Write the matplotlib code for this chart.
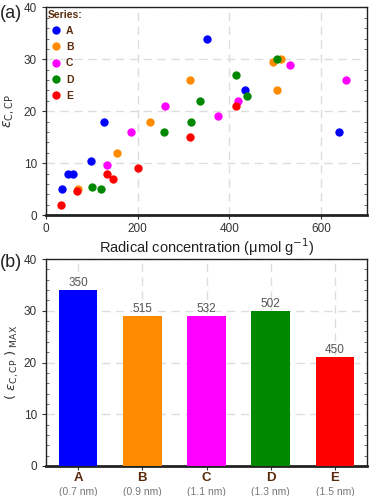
import matplotlib
matplotlib.use("Agg")
import matplotlib.pyplot as plt
from matplotlib.ticker import MultipleLocator

plt.rcParams['font.family'] = ['Liberation Sans', 'DejaVu Sans']
plt.rcParams['mathtext.fontset'] = 'dejavusans'

# (a) datos de dispersión
series = ['A', 'B', 'C', 'D', 'E']
colores = ['#0000ff', '#ff8c00', '#ff00ff', '#008800', '#ff0000']
x_A = [35, 48, 58, 98, 127, 350, 433, 639]
y_A = [5, 8, 8, 10.4, 18, 34, 24, 16]
x_B = [69, 154, 226, 315, 496, 513, 504]
y_B = [5, 12, 18, 26, 29.4, 30, 24]
x_C = [132, 185, 259, 376, 418, 531, 654]
y_C = [9.6, 16, 21, 19, 22, 29, 26]
x_D = [100, 120, 257, 317, 335, 415, 439, 503]
y_D = [5.4, 5, 16, 18, 22, 27, 23, 30]
x_E = [33, 68, 134, 147, 201, 313, 415]
y_E = [2, 4.6, 8, 7, 9, 15, 21]

# (b) datos de barras
etiquetas = ['A', 'B', 'C', 'D', 'E']
tamanos = ['(0.7 nm)', '(0.9 nm)', '(1.1 nm)', '(1.3 nm)', '(1.5 nm)']
eps_max = [34, 29, 29, 30, 21]
conc_max = ['350', '515', '532', '502', '450']

marron = '#5a2a0a'
gris = '#555555'
gris_grid = '#dddddd'

fig = plt.figure(figsize=(3.69, 4.96), dpi=100)
ax1 = fig.add_axes([0.1247, 0.5665, 0.87, 0.4185])
ax2 = fig.add_axes([0.1247, 0.0605, 0.87, 0.4173])

xs = [x_A, x_B, x_C, x_D, x_E]
ys = [y_A, y_B, y_C, y_D, y_E]
for nombre, color, x, y in zip(series, colores, xs, ys):
    ax1.plot(x, y, 'o', color=color, markersize=6, label=nombre, zorder=3,
             markeredgewidth=0)

ax1.set_xlim(0, 700)
ax1.set_ylim(0, 40)
ax1.xaxis.set_major_locator(MultipleLocator(200))
ax1.yaxis.set_major_locator(MultipleLocator(10))
ax1.yaxis.set_minor_locator(MultipleLocator(2))
ax1.grid(True, which='major', color=gris_grid, linestyle=(0, (6, 4)), lw=1)
ax1.set_axisbelow(True)
ax1.set_xlabel('Radical concentration (μmol g$^{-1}$)', fontsize=10.5,
               color='#222222', labelpad=1)
ax1.set_ylabel(r'$\varepsilon_{\mathrm{C,CP}}$', fontsize=10, color='#333333',
               labelpad=5)

leg = ax1.legend(loc='upper left', frameon=False, title='Series:',
                 fontsize=7.5, title_fontsize=7.5, handletextpad=0.1,
                 labelspacing=0.6, borderaxespad=0.1, handlelength=1.6,
                 borderpad=0.1)
leg._legend_box.align = 'left'
leg.get_title().set_color(marron)
leg.get_title().set_fontweight('bold')
for t in leg.get_texts():
    t.set_color(marron)
    t.set_fontweight('bold')

pos = list(range(len(etiquetas)))
barras = ax2.bar(pos, eps_max, width=0.6, color=colores, zorder=3)
for b, txt in zip(barras, conc_max):
    ax2.text(b.get_x() + b.get_width() / 2, b.get_height() + 0.2, txt,
             ha='center', va='bottom', fontsize=8.5, color=gris)

ax2.set_xlim(-0.5, 4.5)
ax2.set_ylim(0, 40)
ax2.set_xticks(pos)
ax2.set_xticklabels(etiquetas, fontsize=9.5, fontweight='bold', color=marron)
for p, tam in zip(pos, tamanos):
    ax2.text(p, -0.125, tam, transform=ax2.get_xaxis_transform(),
             ha='center', va='center', fontsize=7.5, color='#777777')
ax2.yaxis.set_major_locator(MultipleLocator(10))
ax2.yaxis.set_minor_locator(MultipleLocator(2))
ax2.grid(True, which='major', color=gris_grid, linestyle=(0, (6, 4)), lw=1)
ax2.set_axisbelow(True)
ax2.set_ylabel(r'$(\ \varepsilon_{\mathrm{C,CP}}\ )_{\ \mathrm{MAX}}$',
               fontsize=9.5, color='#333333', labelpad=2)

for ax in (ax1, ax2):
    for s in ax.spines.values():
        s.set_linewidth(1.0)
        s.set_color('#222222')
    ax.spines['bottom'].set_linewidth(2)
    ax.tick_params(which='major', direction='out', length=3, labelsize=8.5,
                   labelcolor='#333333', color='#333333')
    ax.tick_params(which='minor', direction='in', length=2, color='#555555')
    ax.tick_params(axis='y', which='minor', right=True, left=True)

ax1.tick_params(axis='x', pad=3)
ax2.tick_params(axis='x', pad=1.5, labelcolor=marron, labelsize=9.5)

fig.text(0.0, 0.99, '(a)', fontsize=13, va='top', ha='left', color='#222222')
fig.text(0.0, 0.488, '(b)', fontsize=13, va='top', ha='left',
         color='#222222')

fig.savefig('out.png', dpi=100)
